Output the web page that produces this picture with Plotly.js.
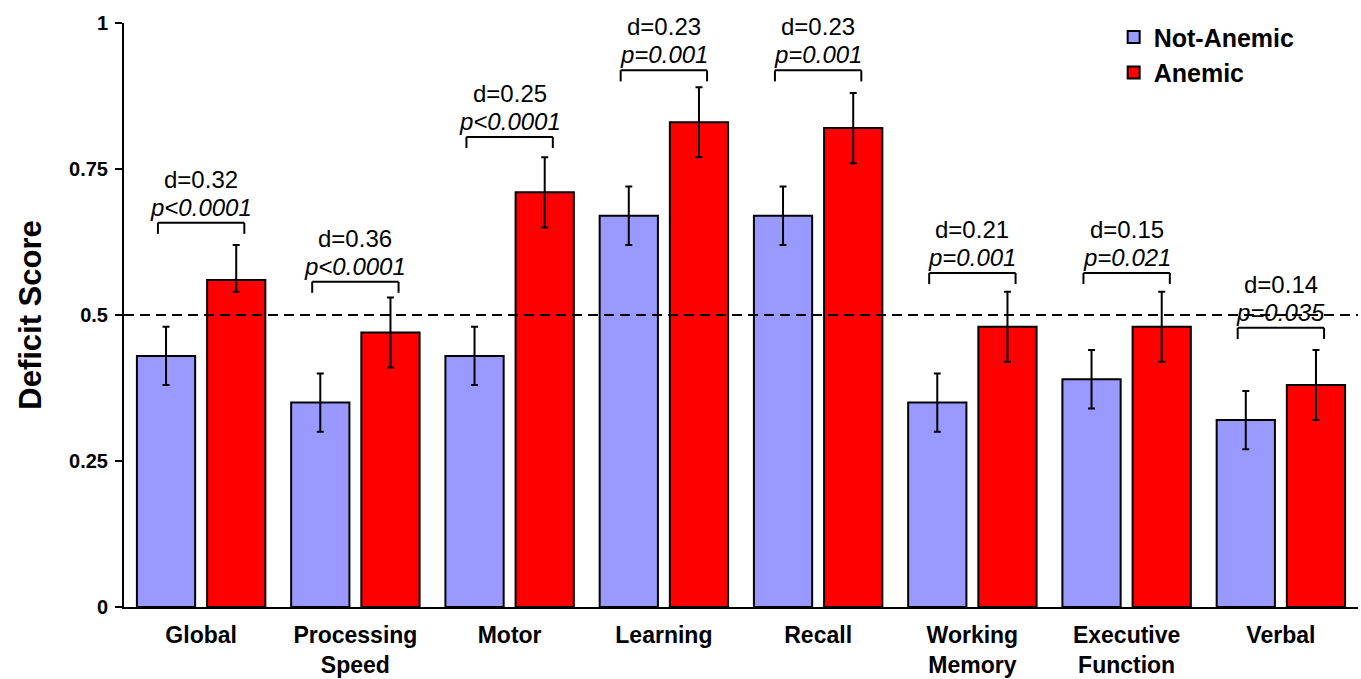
<!DOCTYPE html>
<html>
<head>
<meta charset="utf-8">
<script src="https://cdn.plot.ly/plotly-3.0.1.min.js"></script>
<style>html,body{margin:0;padding:0;background:#fff;}#chart{width:1361px;height:679px;}</style>
</head>
<body>
<div id="chart"></div>
<script>
const categories = ["Global", "Processing<br>Speed", "Motor", "Learning", "Recall", "Working<br>Memory", "Executive<br>Function", "Verbal"];
const notAnemic = [0.43, 0.35, 0.43, 0.67, 0.67, 0.35, 0.39, 0.32];
const notAnemicErr = [0.05, 0.05, 0.05, 0.05, 0.05, 0.05, 0.05, 0.05];
const anemic = [0.56, 0.47, 0.71, 0.83, 0.82, 0.48, 0.48, 0.38];
const anemicErrPlus = [0.06, 0.06, 0.06, 0.06, 0.06, 0.06, 0.06, 0.06];
const anemicErrMinus = [0.02, 0.06, 0.06, 0.06, 0.06, 0.06, 0.06, 0.06];
const effectD = ["0.32", "0.36", "0.25", "0.23", "0.23", "0.21", "0.15", "0.14"];
const pValues = ["p&lt;0.0001", "p&lt;0.0001", "p&lt;0.0001", "p=0.001", "p=0.001", "p=0.001", "p=0.021", "p=0.035"];
const bracketY = [0.658, 0.557, 0.805, 0.919, 0.919, 0.572, 0.572, 0.478];
const referenceLine = 0.5;
const yTicks = [0, 0.25, 0.5, 0.75, 1];
const yTickLabels = ["0", "0.25", "0.5", "0.75", "1"];

const FONT = "Arial, 'Liberation Sans', sans-serif";

const traces = [
  {
    type: "bar", name: "Not-Anemic", x: categories, y: notAnemic,
    marker: {color: "#9999FF", line: {color: "#000", width: 2}},
    error_y: {type: "data", array: notAnemicErr, visible: true, color: "#000", thickness: 2, width: 3.5}
  },
  {
    type: "bar", name: "Anemic", x: categories, y: anemic,
    marker: {color: "#FF0000", line: {color: "#000", width: 2}},
    error_y: {type: "data", symmetric: false, array: anemicErrPlus, arrayminus: anemicErrMinus, visible: true, color: "#000", thickness: 2, width: 3.5}
  }
];

const shapes = [{
  type: "line", xref: "paper", yref: "y", x0: 0, x1: 1, y0: referenceLine, y1: referenceLine,
  line: {color: "#000", width: 2, dash: "10px,6px"}, layer: "above"
}];
const annotations = [];
const half = 0.28, tick = 0.019;
categories.forEach((c, i) => {
  const y = bracketY[i];
  const lineStyle = {color: "#000", width: 2};
  shapes.push({type: "line", xref: "x", yref: "y", x0: i - half, x1: i + half, y0: y, y1: y, line: lineStyle});
  shapes.push({type: "line", xref: "x", yref: "y", x0: i - half, x1: i - half, y0: y, y1: y - tick, line: lineStyle});
  shapes.push({type: "line", xref: "x", yref: "y", x0: i + half, x1: i + half, y0: y, y1: y - tick, line: lineStyle});
  annotations.push({
    xref: "x", yref: "y", x: i, y: y, yanchor: "bottom", yshift: 0, showarrow: false,
    text: "<i>" + pValues[i] + "</i>",
    font: {family: FONT, size: 24, color: "#000"}, align: "center"
  });
  annotations.push({
    xref: "x", yref: "y", x: i, y: y, yanchor: "bottom", yshift: 28, showarrow: false,
    text: "d=" + effectD[i],
    font: {family: FONT, size: 24, color: "#000"}, align: "center"
  });
});

const layout = {
  width: 1361, height: 679,
  margin: {l: 124, r: 3, t: 23, b: 72, pad: 0},
  paper_bgcolor: "#fff", plot_bgcolor: "#fff",
  barmode: "group", bargap: 0.09, bargroupgap: 0.17,
  font: {family: FONT, color: "#000"},
  xaxis: {
    type: "category", showgrid: false, zeroline: false,
    showline: true, linecolor: "#000", linewidth: 2, ticks: "",
    tickfont: {family: FONT, size: 23, weight: "bold", color: "#000"},
    ticklabelstandoff: 6,
    range: [-0.5, 7.5]
  },
  yaxis: {
    range: [0, 1], tickvals: yTicks, ticktext: yTickLabels,
    showgrid: false, zeroline: false, showline: true, linecolor: "#000", linewidth: 2,
    ticks: "outside", ticklen: 7, tickwidth: 2, tickcolor: "#000",
    tickfont: {family: FONT, size: 20, weight: "bold", color: "#000"},
    ticklabelstandoff: 3,
    title: {text: "Deficit Score", font: {family: FONT, size: 31, weight: "bold", color: "#000"}, standoff: 18}
  },
  showlegend: true,
  legend: {
    x: 0.802, y: 1.015, xanchor: "left", yanchor: "top",
    font: {family: FONT, size: 25, weight: "bold", color: "#000"},
    bgcolor: "rgba(0,0,0,0)", itemwidth: 30, tracegroupgap: 0
  },
  shapes: shapes,
  annotations: annotations
};

Plotly.newPlot("chart", traces, layout, {displayModeBar: false, staticPlot: true});
</script>
</body>
</html>
